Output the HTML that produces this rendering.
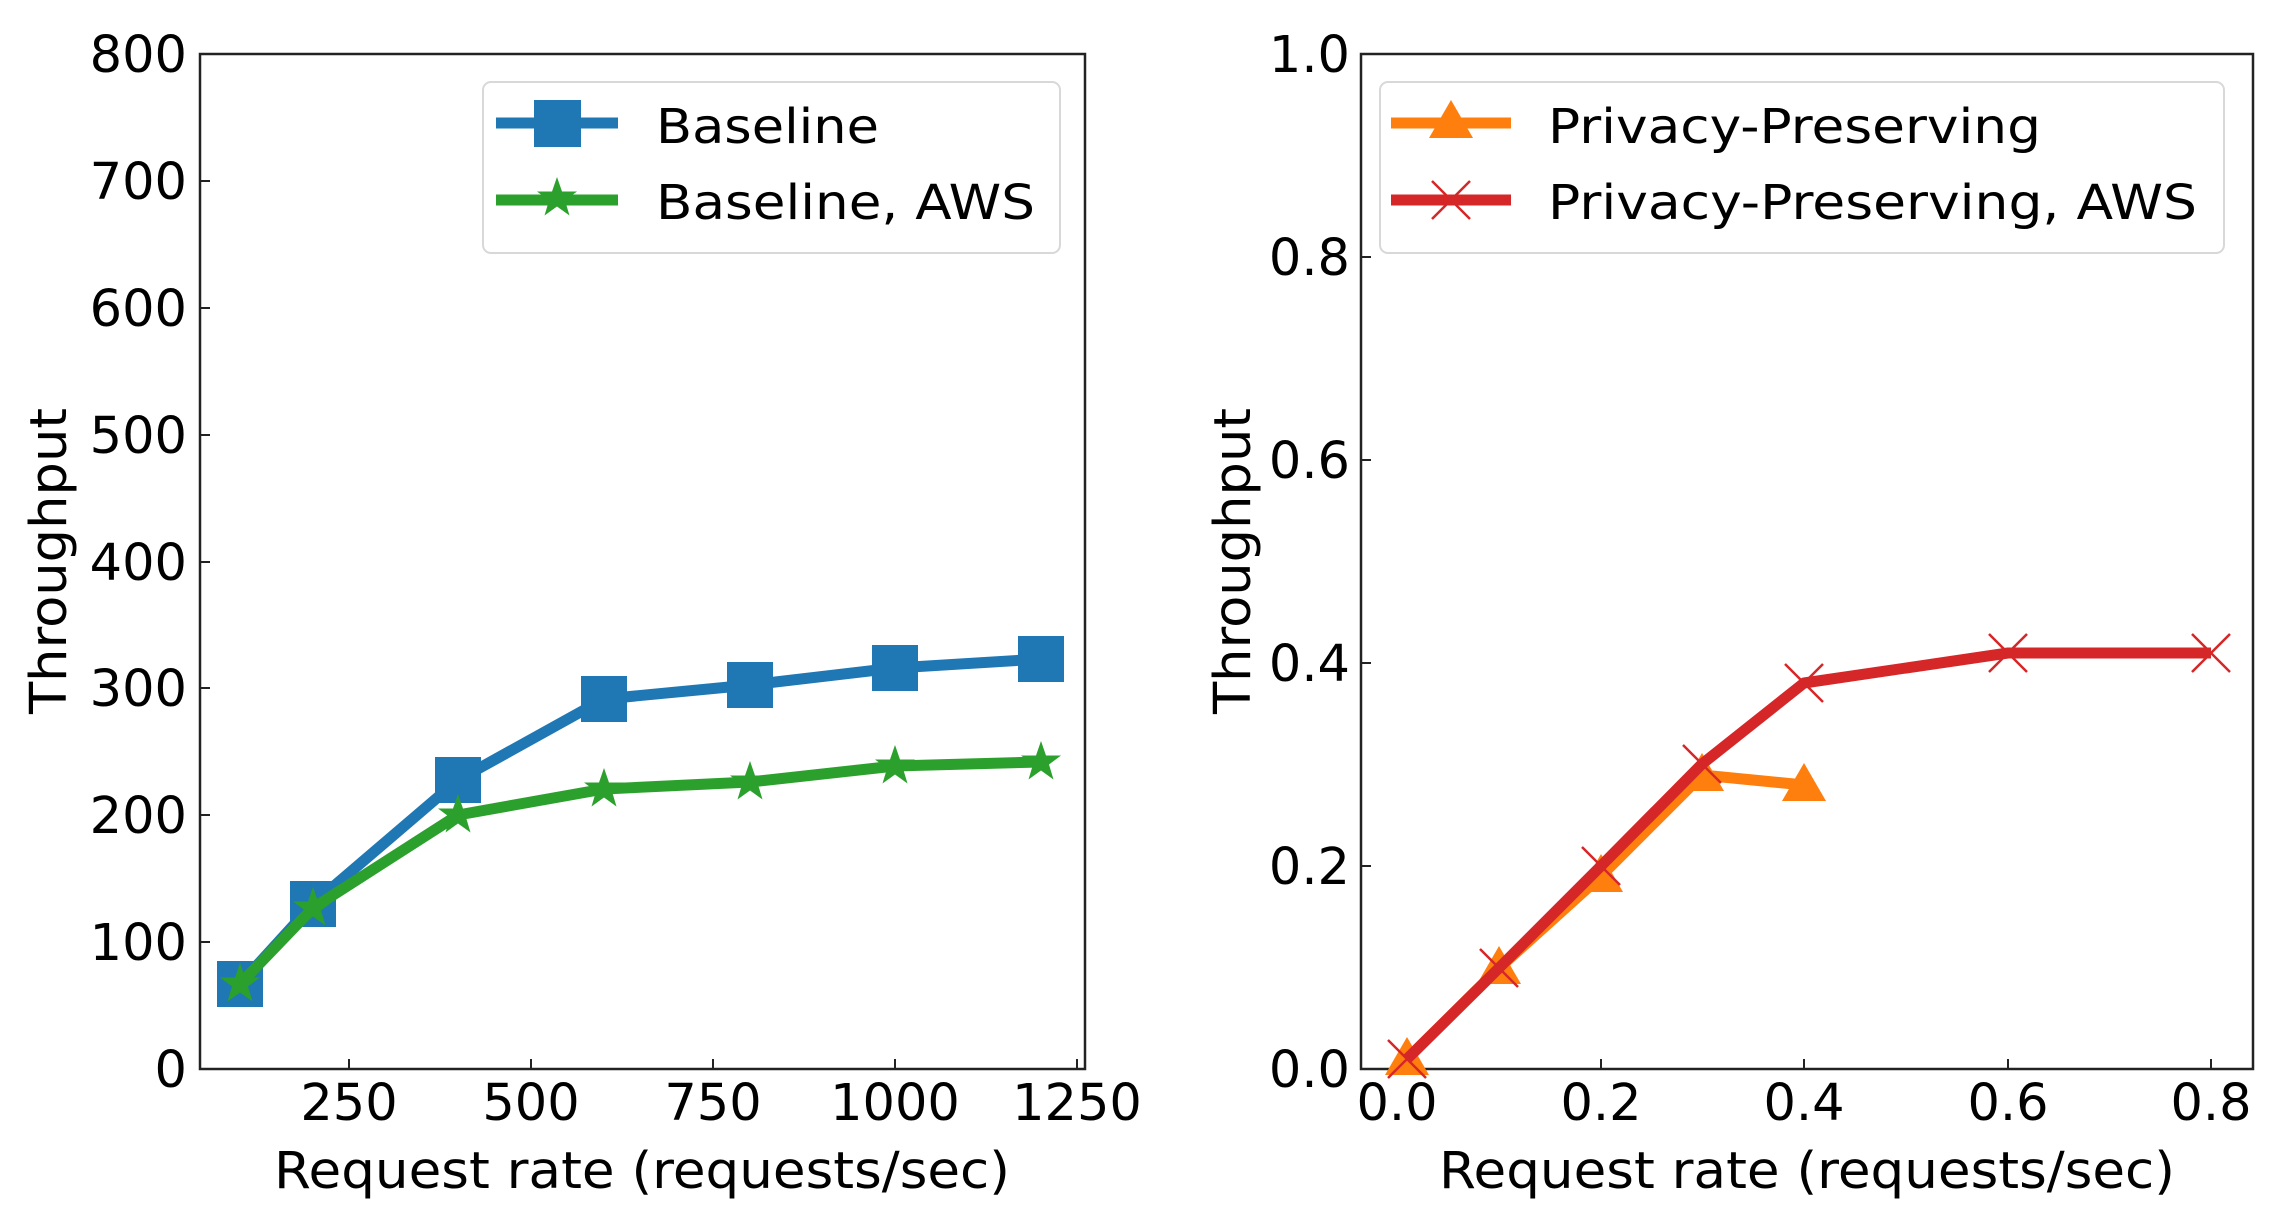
<!DOCTYPE html>
<html><head><meta charset="utf-8"><style>
html,body{margin:0;padding:0;background:#fff}
svg{display:block}
text{font-family:"DejaVu Sans","Liberation Sans",sans-serif;fill:#000}
</style></head><body>
<svg width="2275" height="1227" viewBox="0 0 2275 1227" xmlns="http://www.w3.org/2000/svg">
<defs>
<path id="star" d="M0,-21 L5,-6.5 L20,-6.5 L8,2.5 L12.5,17.5 L0,8.5 L-12.5,17.5 L-8,2.5 L-20,-6.5 L-5,-6.5 Z"/>
<path id="tri" d="M0,-22 L22,16 L-22,16 Z"/>
<path id="xm" d="M-19,-19 L19,19 M-19,19 L19,-19"/>
</defs>

<!-- LEFT PLOT -->
<g font-size="51">
<rect x="200" y="54" width="885" height="1015" fill="none" stroke="#222" stroke-width="2.5"/>
<g stroke="#222" stroke-width="2">
<line x1="200" y1="942" x2="210" y2="942"/><line x1="200" y1="815" x2="210" y2="815"/>
<line x1="200" y1="688" x2="210" y2="688"/><line x1="200" y1="562" x2="210" y2="562"/>
<line x1="200" y1="435" x2="210" y2="435"/><line x1="200" y1="308" x2="210" y2="308"/>
<line x1="200" y1="181" x2="210" y2="181"/>
<line x1="349" y1="1069" x2="349" y2="1059"/><line x1="531" y1="1069" x2="531" y2="1059"/>
<line x1="713" y1="1069" x2="713" y2="1059"/><line x1="895" y1="1069" x2="895" y2="1059"/>
<line x1="1077" y1="1069" x2="1077" y2="1059"/>
</g>
<g text-anchor="end">
<text x="187" y="1087">0</text><text x="187" y="960">100</text><text x="187" y="833">200</text>
<text x="187" y="706">300</text><text x="187" y="580">400</text><text x="187" y="453">500</text>
<text x="187" y="326">600</text><text x="187" y="199">700</text><text x="187" y="72">800</text>
</g>
<g text-anchor="middle">
<text x="349" y="1120">250</text><text x="531" y="1120">500</text><text x="713" y="1120">750</text>
<text x="895" y="1120">1000</text><text x="1077" y="1120">1250</text>
<text x="642" y="1188" textLength="736" lengthAdjust="spacingAndGlyphs">Request rate (requests/sec)</text>
<text transform="translate(66,561) rotate(-90)" textLength="306" lengthAdjust="spacingAndGlyphs">Throughput</text>
</g>
<polyline fill="none" stroke="#1f77b4" stroke-width="11" stroke-linejoin="round" points="240,984 313,904 458,780 604,699 750,685 895,668 1041,659"/>
<g fill="#1f77b4">
<rect x="217" y="961" width="46" height="46"/><rect x="290" y="881" width="46" height="46"/>
<rect x="435" y="757" width="46" height="46"/><rect x="581" y="676" width="46" height="46"/>
<rect x="727" y="662" width="46" height="46"/><rect x="872" y="645" width="46" height="46"/>
<rect x="1018" y="636" width="46" height="46"/>
</g>
<polyline fill="none" stroke="#2ca02c" stroke-width="11" stroke-linejoin="round" points="240,984 313,908 458,815 604,789 750,782 895,766 1041,762"/>
<g fill="#2ca02c">
<use href="#star" x="240" y="984"/><use href="#star" x="313" y="908"/><use href="#star" x="458" y="815"/>
<use href="#star" x="604" y="789"/><use href="#star" x="750" y="782"/><use href="#star" x="895" y="766"/>
<use href="#star" x="1041" y="762"/>
</g>
<rect x="483" y="82" width="577" height="171" rx="8" fill="#fff" fill-opacity="0.8" stroke="#d8d8d8" stroke-width="2"/>
<line x1="496" y1="123" x2="618" y2="123" stroke="#1f77b4" stroke-width="11"/>
<rect x="534" y="100" width="47" height="47" fill="#1f77b4"/>
<line x1="496" y1="200" x2="618" y2="200" stroke="#2ca02c" stroke-width="11"/>
<use href="#star" x="557" y="198" fill="#2ca02c"/>
<text x="656" y="143" font-size="48" textLength="223" lengthAdjust="spacingAndGlyphs">Baseline</text>
<text x="656" y="219" font-size="48" textLength="379" lengthAdjust="spacingAndGlyphs">Baseline, AWS</text>
</g>

<!-- RIGHT PLOT -->
<g font-size="51">
<rect x="1361" y="54" width="892" height="1015" fill="none" stroke="#222" stroke-width="2.5"/>
<g stroke="#222" stroke-width="2">
<line x1="1361" y1="866" x2="1371" y2="866"/><line x1="1361" y1="663" x2="1371" y2="663"/>
<line x1="1361" y1="460" x2="1371" y2="460"/><line x1="1361" y1="257" x2="1371" y2="257"/>
<line x1="1397" y1="1069" x2="1397" y2="1059"/><line x1="1601" y1="1069" x2="1601" y2="1059"/>
<line x1="1804" y1="1069" x2="1804" y2="1059"/><line x1="2008" y1="1069" x2="2008" y2="1059"/>
<line x1="2211" y1="1069" x2="2211" y2="1059"/>
</g>
<g text-anchor="end">
<text x="1350" y="1087">0.0</text><text x="1350" y="884">0.2</text><text x="1350" y="681">0.4</text>
<text x="1350" y="478">0.6</text><text x="1350" y="275">0.8</text><text x="1350" y="72">1.0</text>
</g>
<g text-anchor="middle">
<text x="1397" y="1120">0.0</text><text x="1601" y="1120">0.2</text><text x="1804" y="1120">0.4</text>
<text x="2008" y="1120">0.6</text><text x="2211" y="1120">0.8</text>
<text x="1807" y="1188" textLength="736" lengthAdjust="spacingAndGlyphs">Request rate (requests/sec)</text>
<text transform="translate(1250,561) rotate(-90)" textLength="306" lengthAdjust="spacingAndGlyphs">Throughput</text>
</g>
<polyline fill="none" stroke="#ff7f0e" stroke-width="11" stroke-linejoin="round" points="1407,1059 1499,968 1601,876 1702,775 1804,785"/>
<g fill="#ff7f0e">
<use href="#tri" x="1407" y="1059"/><use href="#tri" x="1499" y="968"/><use href="#tri" x="1601" y="876"/>
<use href="#tri" x="1702" y="775"/><use href="#tri" x="1804" y="785"/>
</g>
<polyline fill="none" stroke="#d62728" stroke-width="11" stroke-linejoin="round" points="1407,1059 1499,968 1601,866 1702,764 1804,683 2008,653 2211,653"/>
<g stroke="#d62728" stroke-width="2.5" fill="none">
<use href="#xm" x="1407" y="1059"/><use href="#xm" x="1499" y="968"/><use href="#xm" x="1601" y="866"/>
<use href="#xm" x="1702" y="764"/><use href="#xm" x="1804" y="683"/><use href="#xm" x="2008" y="653"/>
<use href="#xm" x="2211" y="653"/>
</g>
<rect x="1380" y="82" width="844" height="171" rx="8" fill="#fff" fill-opacity="0.8" stroke="#d8d8d8" stroke-width="2"/>
<line x1="1391" y1="123" x2="1511" y2="123" stroke="#ff7f0e" stroke-width="11"/>
<use href="#tri" x="1451" y="122" fill="#ff7f0e"/>
<line x1="1391" y1="200" x2="1511" y2="200" stroke="#d62728" stroke-width="11"/>
<use href="#xm" x="1451" y="200" stroke="#d62728" stroke-width="2.5"/>
<text x="1548" y="143" font-size="48" textLength="493" lengthAdjust="spacingAndGlyphs">Privacy-Preserving</text>
<text x="1548" y="219" font-size="48" textLength="649" lengthAdjust="spacingAndGlyphs">Privacy-Preserving, AWS</text>
</g>
</svg>
</body></html>
